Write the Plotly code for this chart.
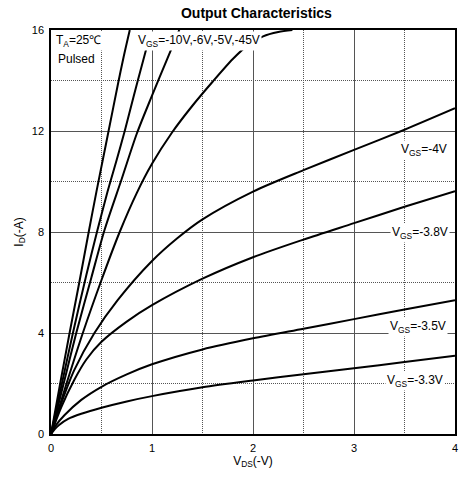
import plotly.graph_objects as go

# Drain current -I_D (A) versus drain-source voltage -V_DS (V), one curve per gate bias
vds_10v = [0, 0.1, 0.184, 0.28, 0.377, 0.45, 0.515, 0.57, 0.665, 0.72, 0.78]
id_10v = [0, 2.2, 4.0, 6.0, 8.08, 9.6, 10.9, 12.0, 13.9, 14.95, 16.0]

vds_6v = [0, 0.1, 0.217, 0.35, 0.46, 0.56, 0.65, 0.73, 0.82, 0.9, 0.98]
id_6v = [0, 1.85, 4.0, 6.3, 8.08, 9.6, 10.85, 12.0, 13.4, 14.6, 15.8]

vds_5v = [0, 0.15, 0.25, 0.4, 0.53, 0.7, 0.85, 1.0, 1.15, 1.27]
id_5v = [0, 2.4, 4.0, 6.2, 8.08, 10.1, 11.9, 13.4, 14.85, 16.0]

vds_45v = [0, 0.15, 0.315, 0.5, 0.68, 0.85, 1.0, 1.2, 1.4, 1.6, 1.8, 1.95, 2.1, 2.25, 2.39]
id_45v = [0, 1.95, 4.0, 6.1, 8.0, 9.55, 10.7, 11.95, 13.0, 13.95, 14.85, 15.4, 15.75, 15.92, 16.0]

vds_4v = [0, 0.1, 0.23, 0.43, 0.66, 1.0, 1.25, 1.5, 2.0, 2.5, 3.0, 3.5, 4.0]
id_4v = [0, 1.2, 2.53, 4.0, 5.3, 6.85, 7.75, 8.5, 9.6, 10.45, 11.25, 12.05, 12.9]

vds_38v = [0, 0.1, 0.23, 0.35, 0.5, 0.75, 1.0, 1.5, 2.0, 2.5, 3.0, 3.5, 4.0]
id_38v = [0, 1.05, 2.14, 2.95, 3.65, 4.45, 5.1, 6.15, 7.0, 7.7, 8.35, 9.0, 9.62]

vds_35v = [0, 0.05, 0.135, 0.3, 0.5, 0.75, 1.0, 1.5, 2.0, 2.5, 3.0, 3.5, 4.0]
id_35v = [0, 0.35, 0.75, 1.35, 1.87, 2.36, 2.76, 3.35, 3.79, 4.17, 4.55, 4.93, 5.3]

vds_33v = [0, 0.04, 0.08, 0.17, 0.3, 0.5, 0.75, 1.0, 1.5, 2.0, 2.5, 3.0, 3.5, 4.0]
id_33v = [0, 0.2, 0.36, 0.6, 0.8, 1.04, 1.29, 1.5, 1.85, 2.12, 2.37, 2.6, 2.85, 3.1]

x_ticks = [0, 1, 2, 3, 4]
y_ticks = [0, 4, 8, 12, 16]

curves = [
    (vds_10v, id_10v), (vds_6v, id_6v), (vds_5v, id_5v), (vds_45v, id_45v),
    (vds_4v, id_4v), (vds_38v, id_38v), (vds_35v, id_35v), (vds_33v, id_33v),
]

FONT = "Liberation Sans, Arial, sans-serif"

fig = go.Figure()
for vx, iy in curves:
    fig.add_trace(go.Scatter(
        x=vx, y=iy, mode="lines",
        line=dict(color="black", width=2, shape="spline", smoothing=0.8),
        hoverinfo="skip", showlegend=False, cliponaxis=True,
    ))

# Curve labels with white boxes that mask grid lines behind them
labels = [
    ("T<sub>A</sub>=25\u2103", 0.03, 15.55, "left"),
    ("Pulsed", 0.25, 14.85, "center"),
    ("V<sub>GS</sub>=-10V,-6V,-5V,-45V", 0.845, 15.55, "left"),
    ("V<sub>GS</sub>=-4V", 3.94, 11.25, "right"),
    ("V<sub>GS</sub>=-3.8V", 3.955, 7.95, "right"),
    ("V<sub>GS</sub>=-3.5V", 3.935, 4.22, "right"),
    ("V<sub>GS</sub>=-3.3V", 3.9, 2.1, "right"),
]
for txt, ax_x, ax_y, anchor in labels:
    fig.add_annotation(
        x=ax_x, y=ax_y, text=txt, showarrow=False, xanchor=anchor, yanchor="middle",
        font=dict(family=FONT, size=12, color="black"),
        bgcolor="white", borderpad=1,
    )

axis_common = dict(
    showline=True, linecolor="black", linewidth=1.5, mirror=True,
    showgrid=True, gridcolor="#555555", gridwidth=1,
    ticks="", zeroline=False, ticklabelstandoff=3,
    tickfont=dict(family=FONT, size=11, color="black"),
)

fig.update_xaxes(
    range=[0, 4], tickvals=x_ticks, ticktext=[str(v) for v in x_ticks],
    minor=dict(dtick=0.5, tick0=0, showgrid=True, gridcolor="#555555",
               griddash="1px,1px", gridwidth=1),
    title=dict(text="V<sub>DS</sub>(-V)", font=dict(family=FONT, size=12, color="black"),
               standoff=2),
    **axis_common,
)
fig.update_yaxes(
    range=[0, 16], tickvals=y_ticks, ticktext=[str(v) for v in y_ticks],
    minor=dict(dtick=2, tick0=0, showgrid=True, gridcolor="#555555",
               griddash="1px,1px", gridwidth=1),
    title=dict(text="I<sub>D</sub>(-A)", font=dict(family=FONT, size=12, color="black"),
               standoff=6),
    **axis_common,
)

fig.update_layout(
    width=462, height=477,
    margin=dict(l=51, r=4, t=30, b=43),
    paper_bgcolor="white", plot_bgcolor="white",
    title=dict(text="<b>Output Characteristics</b>", x=0.555, xanchor="center",
               y=0.972, yanchor="middle",
               font=dict(family=FONT, size=14, color="black")),
)

fig.write_html("out.html")
